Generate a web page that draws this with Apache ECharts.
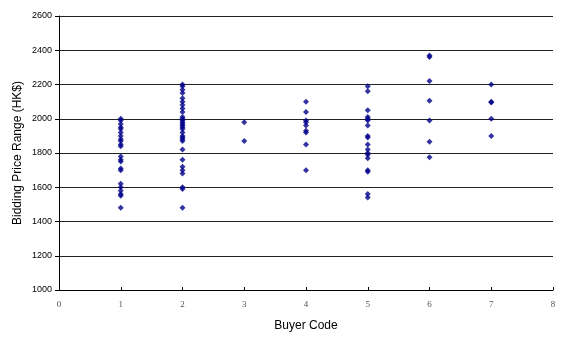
<!DOCTYPE html>
<html><head><meta charset="utf-8">
<script src="https://cdn.jsdelivr.net/npm/echarts@6/dist/echarts.min.js"></script>
<style>html,body{margin:0;padding:0;background:#fff}#c{width:561px;height:338px}</style>
</head><body><div id="c"></div>
<script>
const buyerCodes = [1, 2, 3, 4, 5, 6, 7];
const buyer1 = [2000, 1990, 1970, 1950, 1940, 1920, 1900, 1880, 1870, 1850, 1840, 1780, 1760, 1750, 1710, 1700, 1620, 1600, 1580, 1560, 1550, 1480];
const buyer2 = [2200, 2190, 2170, 2150, 2120, 2100, 2080, 2060, 2040, 2010, 2000, 1990, 1980, 1970, 1960, 1950, 1940, 1920, 1900, 1890, 1880, 1870, 1820, 1760, 1720, 1700, 1680, 1600, 1590, 1480];
const buyer3 = [1980, 1870];
const buyer4 = [2100, 2040, 1990, 1980, 1960, 1930, 1920, 1850, 1700];
const buyer5 = [2190, 2160, 2050, 2010, 2000, 1990, 1960, 1900, 1890, 1850, 1820, 1800, 1790, 1770, 1700, 1690, 1560, 1540];
const buyer6 = [2370, 2360, 2220, 2105, 1990, 1865, 1775];
const buyer7 = [2200, 2100, 2095, 2000, 1900];
const yTicks = [1000, 1200, 1400, 1600, 1800, 2000, 2200, 2400, 2600];
const xTicks = [0, 1, 2, 3, 4, 5, 6, 7, 8];

const groups = [buyer1, buyer2, buyer3, buyer4, buyer5, buyer6, buyer7];
const points = [];
groups.forEach((g, i) => g.forEach(v => points.push([buyerCodes[i], v])));

const chart = echarts.init(document.getElementById('c'), null, {renderer: 'canvas'});
chart.setOption({
  animation: false,
  backgroundColor: '#fff',
  grid: {left: 59, right: 8, top: 16, bottom: 48, containLabel: false},
  xAxis: {
    type: 'value', min: xTicks[0], max: xTicks[xTicks.length - 1], interval: 1,
    name: 'Buyer Code', nameLocation: 'middle', nameGap: 30,
    nameTextStyle: {fontFamily: 'Liberation Sans', fontSize: 12, color: '#000'},
    axisLine: {show: true, lineStyle: {color: '#000', width: 1}},
    axisTick: {show: true, inside: true, length: 3, lineStyle: {color: '#000'}},
    axisLabel: {fontFamily: 'Liberation Serif', fontSize: 9, color: '#555', margin: 10, formatter: v => String(v)},
    splitLine: {show: false}
  },
  yAxis: {
    type: 'value', min: yTicks[0], max: yTicks[yTicks.length - 1], interval: 200,
    name: 'Bidding Price Range (HK$)', nameLocation: 'middle', nameGap: 35,
    nameMoveOverlap: false,
    nameTextStyle: {fontFamily: 'Liberation Sans', fontSize: 12, color: '#000'},
    axisLine: {show: true, lineStyle: {color: '#000', width: 1}},
    axisTick: {show: true, inside: false, length: 4, lineStyle: {color: '#000'}},
    axisLabel: {fontFamily: 'Liberation Sans', fontSize: 9, color: '#000', margin: 7, formatter: v => String(v)},
    splitLine: {show: true, lineStyle: {color: '#222', width: 1}}
  },
  series: [{
    type: 'scatter',
    symbol: 'diamond',
    symbolSize: 6,
    itemStyle: {color: '#00008b'},
    data: points
  }]
});
</script></body></html>
